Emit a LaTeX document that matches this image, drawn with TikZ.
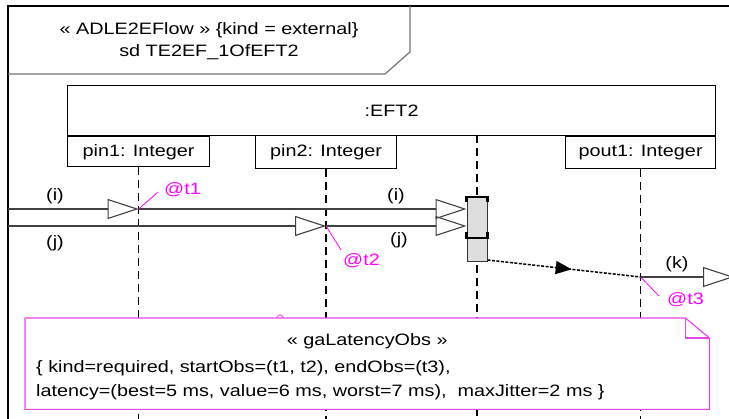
\documentclass[tikz,border=0pt]{standalone}
\usepackage{fontspec}
\setmainfont{Liberation Sans}[FakeStretch=1.2]
\usepackage{tikz}
\usetikzlibrary{arrows.meta,positioning,calc,decorations.markings}
\definecolor{obsmag}{RGB}{255,0,255}
\definecolor{notemag}{RGB}{230,70,230}
\definecolor{execgray}{RGB}{222,222,222}

\begin{document}
\begin{tikzpicture}[x=1pt,y=-1pt,
    lbl/.style={font=\fontsize{16.5}{22}\selectfont,inner sep=0pt},
    box/.style={draw=black,line width=1.2pt,lbl,anchor=north west},
    lifeline/.style={draw=black,line width=1.5pt,dash pattern=on 8pt off 5pt},
    signal/.style={draw=black!75,line width=1.1pt,-{Triangle[open,length=31pt,width=20pt]}},
    flow/.style={draw=black,line width=1.5pt,dash pattern=on 3pt off 1.5pt,postaction={decorate},
      decoration={markings,mark=at position 0.55 with {\arrow{Triangle[length=16pt,width=13pt]}}}},
    obs/.style={lbl,text=obsmag},
    obsline/.style={draw=obsmag,line width=0.8pt}]
  \clip (0,0) rectangle (729,419);
  \coordinate (frame nw) at (8,6);
  \coordinate (bottom) at (0,430);
  \draw[line width=1.2pt] (frame nw |- bottom) -- (frame nw) -- (740,6);
  \draw[black!55,line width=1.2pt] (8,74) -- (385,74) -- (410,52) -- (410,6);
  \node[lbl,align=center] (title) at (209,41) {« ADLE2EFlow » \{kind = external\}\\sd TE2EF\_1OfEFT2};
  \node[box,minimum width=648pt,minimum height=50pt] (eft2) at (67,85) {:EFT2};
  \node[box,minimum width=142pt,minimum height=30pt] (pin1) at (eft2.south west) {pin1: Integer};
  \node[box,minimum width=141pt,minimum height=33pt] (pin2) at (255,135) {pin2: Integer};
  \node[box,minimum width=150pt,minimum height=32pt,anchor=north east] (pout1) at (eft2.south east) {pout1: Integer};
  \coordinate (mid) at (477,135);
  \draw[lifeline] (pin1.south) -- (pin1.south |- bottom);
  \draw[lifeline] (pin2.south) -- (pin2.south |- bottom);
  \draw[lifeline] (pout1.south) -- (pout1.south |- bottom);
  \draw[lifeline] (mid) -- (mid |- bottom);
  \node[draw=black!80,fill=execgray,line width=1pt,minimum width=20pt,minimum height=64pt,
        inner sep=0pt,anchor=north] (exec) at (477,197) {};
  \draw[line width=2.2pt] ($(exec.north west)+(0,5)$) -- (exec.north west) -- (exec.north east) -- ++(0,5);
  \draw[line width=2.2pt] ($(exec.north west)+(0,35)$) -- ($(exec.north west)+(0,41)$)
    -- ($(exec.north east)+(0,41)$) -- ($(exec.north east)+(0,35)$);
  \coordinate (i in) at (8,209);
  \coordinate (j in) at (8,226);
  \coordinate (t1) at (pin1.south |- i in);
  \coordinate (t2) at (pin2.south |- j in);
  \draw[signal] (i in) -- (t1);
  \draw[signal] (t1) -- (exec.west |- t1);
  \draw[signal] (j in) -- (t2);
  \draw[signal] (t2) -- (exec.west |- t2);
  \node[lbl] (lbl i) at (55,196) {(i)};
  \node[lbl] (lbl j) at (55,243) {(j)};
  \node[lbl] (lbl i2) at (396,196) {(i)};
  \node[lbl] (lbl j2) at (399,240) {(j)};
  \coordinate (k start) at ($(exec.south east)+(0,-2)$);
  \coordinate (t3) at (pout1.south |- 0,277);
  \coordinate (k out) at (734,277);
  \draw[flow] (k start) -- (t3);
  \draw[signal] (t3) -- (k out);
  \node[lbl] (lbl k) at (677,264) {(k)};
  \node[obs,anchor=west] (at1) at (164,190) {@t1};
  \node[obs,anchor=west] (at2) at (343,261) {@t2};
  \node[obs,anchor=west] (at3) at (667,300) {@t3};
  \draw[obsline] (t1) -- ($(at1.west)+(-6,2)$);
  \draw[obsline] (t2) -- ($(at2.west)+(-2,-11)$);
  \draw[obsline] (t3) -- ($(at3.west)+(-8,-4)$);
  \path node[minimum width=684pt,minimum height=91pt,inner sep=0pt,anchor=north west] (note) at (25,318) {};
  \draw[notemag,line width=1.2pt,fill=white] (note.north west) -- ($(note.north east)+(-24,0)$)
    -- ($(note.north east)+(0,20)$) -- (note.south east) -- (note.south west) -- cycle;
  \draw[notemag,line width=1.2pt] ($(note.north east)+(-24,0)$) -- ($(note.north east)+(-24,20)$)
    -- ($(note.north east)+(0,20)$);
  \draw[notemag,line width=0.8pt] (277,318) arc[start angle=180,end angle=360,radius=3];
  \node[lbl,below=15pt of note.north] (stereo) {« gaLatencyObs »};
  \node[lbl,align=left,anchor=north west,font=\fontsize{16.5}{24}\selectfont] (props)
    at ($(note.north west)+(11,42)$)
    {\{ kind=required, startObs=(t1, t2), endObs=(t3),\\latency=(best=5 ms, value=6 ms, worst=7 ms), \ maxJitter=2 ms \}};
\end{tikzpicture}
\end{document}
